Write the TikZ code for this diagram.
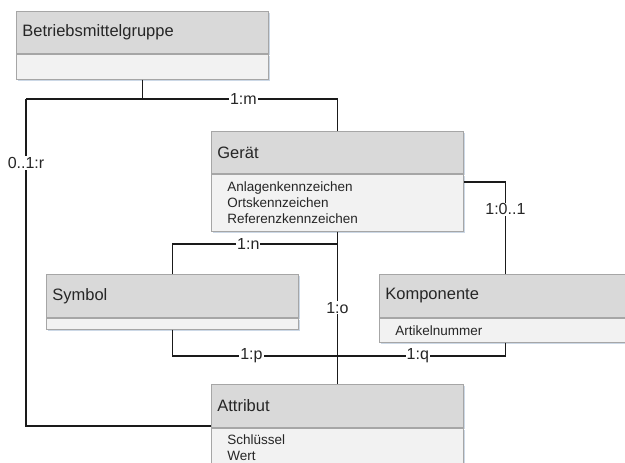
\documentclass[tikz,border=0pt]{standalone}
\usepackage{fontspec}
\setmainfont{Liberation Sans}
\usetikzlibrary{shadows}
\definecolor{hdrfill}{HTML}{D9D9D9}
\definecolor{bodyfill}{HTML}{F2F2F2}
\definecolor{boxline}{HTML}{A6A6A6}
\definecolor{shadowc}{HTML}{CCD8E6}
\definecolor{txt}{HTML}{262626}
\definecolor{conn}{HTML}{1A1A1A}
\tikzset{
  boxbase/.style={draw=boxline, line width=0.8pt, anchor=north west, minimum width=252pt,
    drop shadow={shadow xshift=2pt, shadow yshift=-2pt, fill=shadowc, opacity=1},
    text=txt, align=left},
  hdr/.style={boxbase, fill=hdrfill, minimum height=42.5pt, inner xsep=6pt, text width=240pt,
    font=\fontsize{16.5}{19}\selectfont},
  bdy/.style={boxbase, fill=bodyfill, inner xsep=16pt, inner ysep=3pt, text width=220pt,
    font=\fontsize{13.5}{16}\selectfont},
  conline/.style={draw=conn, line width=1.4pt},
  lbl/.style={fill=white, inner sep=1pt, text=txt, font=\fontsize{16}{18}\selectfont}
}
\begin{document}
\begin{tikzpicture}[x=1pt, y=-1pt]
\useasboundingbox (0,0) rectangle (625,463);
\clip (0,0) rectangle (625,463);
\fill[white] (0,0) rectangle (625,463);

\coordinate (lc) at (26,99);
\coordinate (jq) at (337,356);

% Boxes
\node[hdr, minimum height=42pt] (bmgh) at (16,11) {Betriebsmittelgruppe};
\node[bdy, minimum height=25pt] (bmgb) at (bmgh.south west) {};

\node[hdr, minimum height=42pt] (gerh) at (211,131) {Gerät};
\node[bdy, minimum height=57pt] (gerb) at (gerh.south west) {Anlagenkennzeichen\\Ortskennzeichen\\Referenzkennzeichen};

\node[hdr, minimum height=43pt] (symh) at (46,274) {Symbol};
\node[bdy, minimum height=11pt, inner ysep=0pt] (symb) at (symh.south west) {};

\node[hdr, minimum height=43pt] (komph) at (379,274) {Komponente};
\node[bdy, minimum height=24pt, inner xsep=15pt] (kompb) at (komph.south west) {Artikelnummer};

\node[hdr, minimum height=43pt] (attrh) at (211,384) {Attribut};
\node[bdy, minimum height=38pt] (attrb) at (attrh.south west) {Schlüssel\\Wert};

% Connectors
\draw[conline] (bmgb.south) -- (bmgb.south |- lc);
\draw[conline] (lc) -- node[lbl, pos=0.698] {1:m} (lc -| gerh.north) -- (gerh.north);
\draw[conline] (lc) -- node[lbl, pos=0.196] {0..1:r} ([yshift=2pt]attrh.south west -| lc) -- ([yshift=2pt]attrh.south west);
\draw[conline] ([yshift=-8pt]gerb.north east) -| node[lbl, pos=0.65] {1:0..1} (komph.north);
\draw[conline] (symh.north) |- node[lbl, pos=0.73] {1:n} (gerb.south |- 0,244);
\draw[conline] (gerb.south) -- node[lbl, pos=0.5] {1:o} (attrh.north);
\draw[conline] (symb.south) |- node[lbl, pos=0.74] {1:p} (jq);
\draw[conline] (kompb.south) |- node[lbl, pos=0.76] {1:q} (jq);
\end{tikzpicture}
\end{document}
